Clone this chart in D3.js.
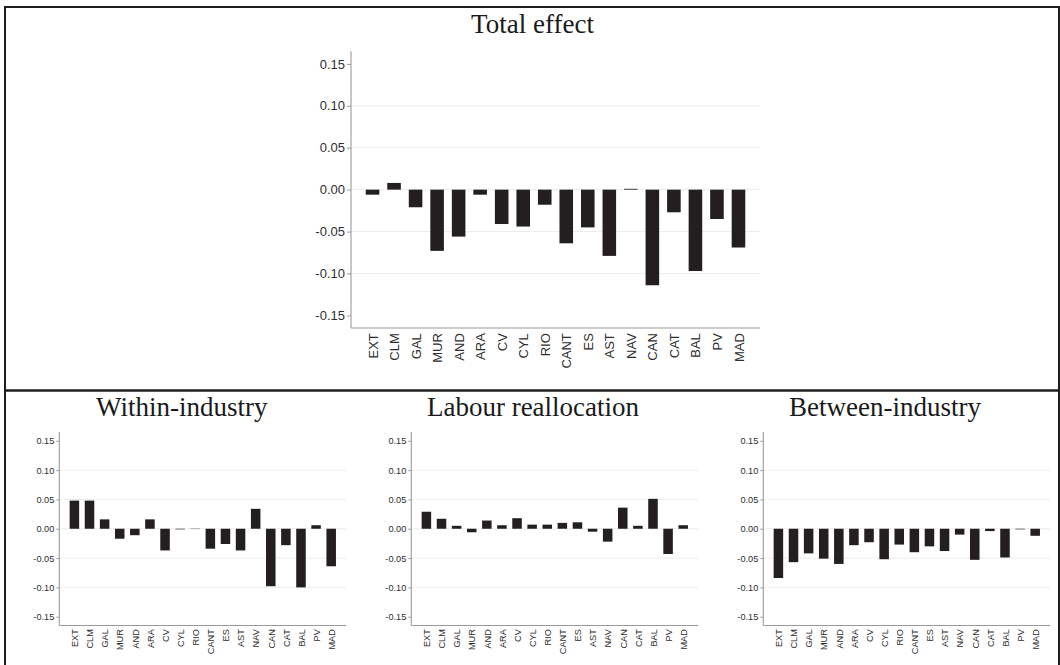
<!DOCTYPE html>
<html>
<head>
<meta charset="utf-8">
<script src="https://cdn.jsdelivr.net/npm/d3@7"></script>
<style>
  html, body { margin: 0; padding: 0; background: #fff; }
  svg { display: block; }
</style>
</head>
<body>
<svg id="fig" width="1060" height="665"></svg>
<script>
// Regional decomposition of the productivity change
const regions = ["EXT","CLM","GAL","MUR","AND","ARA","CV","CYL","RIO","CANT","ES","AST","NAV","CAN","CAT","BAL","PV","MAD"];

const totalEffect        = [-0.006, 0.008, -0.021, -0.073, -0.056, -0.006, -0.041, -0.044, -0.018, -0.064, -0.045, -0.079, 0.001, -0.114, -0.027, -0.097, -0.035, -0.069];
const withinIndustry     = [0.048, 0.048, 0.016, -0.017, -0.011, 0.016, -0.037, -0.001, -0.0005, -0.034, -0.026, -0.037, 0.034, -0.098, -0.028, -0.100, 0.006, -0.064];
const labourReallocation = [0.029, 0.017, 0.005, -0.006, 0.014, 0.006, 0.018, 0.007, 0.007, 0.010, 0.011, -0.005, -0.022, 0.036, 0.005, 0.051, -0.043, 0.006];
const betweenIndustry    = [-0.084, -0.057, -0.042, -0.051, -0.060, -0.028, -0.023, -0.052, -0.027, -0.040, -0.030, -0.038, -0.010, -0.053, -0.004, -0.049, -0.001, -0.012];

const yTicks      = [-0.15, -0.10, -0.05, 0.00, 0.05, 0.10, 0.15];
const yTickLabels = ["-0.15", "-0.10", "-0.05", "0.00", "0.05", "0.10", "0.15"];
const gridTicks   = [-0.10, -0.05, 0.00, 0.05, 0.10];

const svg = d3.select("#fig");

// frame and divider
svg.append("rect")
  .attr("x", 5).attr("y", 7)
  .attr("width", 1054).attr("height", 700)
  .attr("fill", "none").attr("stroke", "#1e1e1e").attr("stroke-width", 2);
svg.append("line")
  .attr("x1", 5).attr("x2", 1059).attr("y1", 390.5).attr("y2", 390.5)
  .attr("stroke", "#1e1e1e").attr("stroke-width", 2.4);

const panels = [
  { title: "Total effect",        values: totalEffect,        left: 351,   right: 760,    top: 51.3, bottom: 328,   font: 13,  tick: 4, titleX: 532.5, titleY: 33 },
  { title: "Within-industry",     values: withinIndustry,     left: 59.3,  right: 346.3,  top: 432,  bottom: 625.5, font: 9.2, tick: 3, titleX: 181.7, titleY: 415.5 },
  { title: "Labour reallocation", values: labourReallocation, left: 411.3, right: 698.3,  top: 432,  bottom: 625.5, font: 9.2, tick: 3, titleX: 533,   titleY: 415.5 },
  { title: "Between-industry",    values: betweenIndustry,    left: 763.3, right: 1050.3, top: 432,  bottom: 625.5, font: 9.2, tick: 3, titleX: 885,   titleY: 415.5 }
];

panels.forEach(p => {
  const g = svg.append("g");

  const x = d3.scalePoint().domain(regions).range([p.left, p.right]).padding(1);
  const y = d3.scaleLinear().domain([-0.165, 0.165]).range([p.bottom, p.top]);
  const bw = x.step() * 0.63;

  // title
  g.append("text")
    .attr("x", p.titleX).attr("y", p.titleY)
    .attr("text-anchor", "middle")
    .attr("font-family", "'Liberation Serif', 'Times New Roman', serif")
    .attr("font-size", 27)
    .attr("fill", "#1a1a1a")
    .text(p.title);

  // horizontal grid
  g.append("g").selectAll("line").data(gridTicks).join("line")
    .attr("x1", p.left).attr("x2", p.right)
    .attr("y1", d => y(d)).attr("y2", d => y(d))
    .attr("stroke", "#ececec").attr("stroke-width", 1);

  // bars
  g.append("g").selectAll("rect").data(regions).join("rect")
    .attr("x", (d) => x(d) - bw / 2)
    .attr("width", bw)
    .attr("y", (d, i) => Math.min(y(p.values[i]), y(0)))
    .attr("height", (d, i) => Math.abs(y(p.values[i]) - y(0)))
    .attr("fill", "#231f20");

  // y axis
  const yAxis = d3.axisLeft(y)
    .tickValues(yTicks)
    .tickFormat((d, i) => yTickLabels[i])
    .tickSize(p.tick)
    .tickPadding(2);
  const ya = g.append("g").attr("transform", `translate(${p.left},0)`).call(yAxis);
  ya.select(".domain").attr("stroke", "#9a9a9a").attr("stroke-width", 1.1)
    .attr("d", `M0,${p.top}V${p.bottom}`);
  ya.selectAll(".tick line").attr("stroke", "#9a9a9a");
  ya.selectAll(".tick text")
    .attr("font-family", "'Liberation Sans', Arial, sans-serif")
    .attr("font-size", p.font)
    .attr("fill", "#2e2e2e");

  // x axis
  const xAxis = d3.axisBottom(x).tickSize(0).tickPadding(0);
  const xa = g.append("g").attr("transform", `translate(0,${p.bottom})`).call(xAxis);
  xa.select(".domain").attr("stroke", "#9a9a9a").attr("stroke-width", 1.1)
    .attr("d", `M${p.left},0H${p.right}`);
  xa.selectAll(".tick text")
    .attr("font-family", "'Liberation Sans', Arial, sans-serif")
    .attr("font-size", p.font)
    .attr("fill", "#2e2e2e")
    .attr("text-anchor", "end")
    .attr("transform", `rotate(-90)`)
    .attr("x", -(p.font * 0.4))
    .attr("y", 0)
    .attr("dy", "0.35em");
});
</script>
</body>
</html>
